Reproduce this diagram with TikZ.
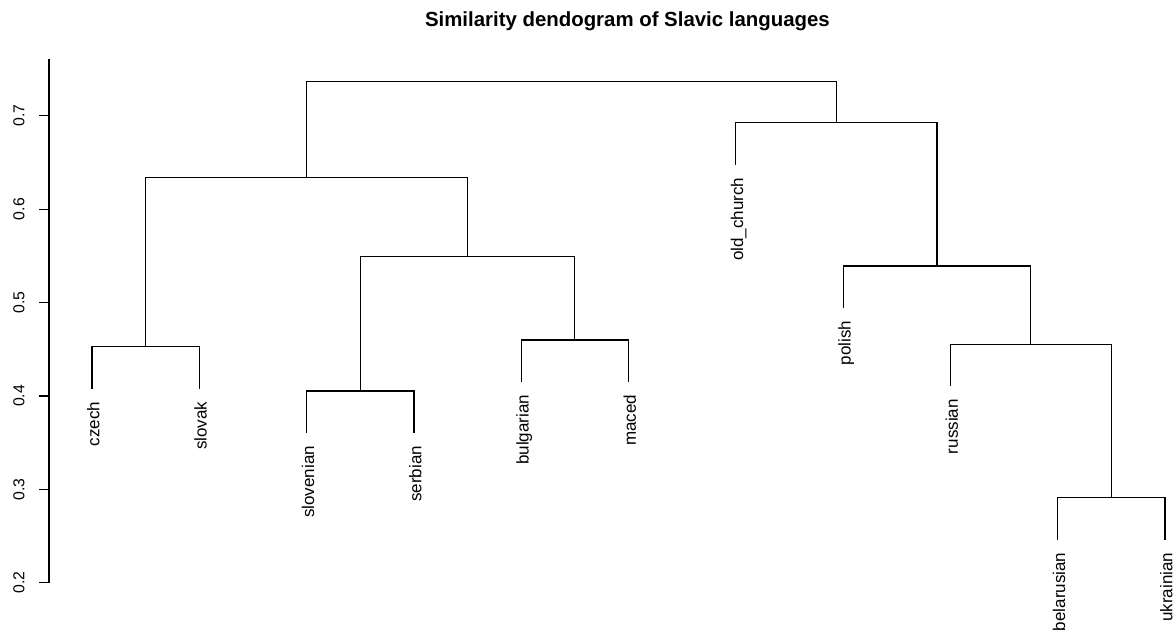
\documentclass[tikz,border=0pt]{standalone}
\usepackage{fontspec}
\setmainfont{Liberation Sans}
\begin{document}
\begin{tikzpicture}[
        x=53.65pt, y=467pt,
        every path/.append style={black, line width=0.6pt},
        every node/.append style={black, inner sep=0pt},
        leaflabel/.style={rotate=90, anchor=east, text height=1.4ex, text depth=0pt,
            font=\fontsize{8.5}{10}\selectfont},
        ticklabel/.style={rotate=90, anchor=south, font=\fontsize{7.9}{10}\selectfont}
    ]
    \useasboundingbox (0.1426,0.1472) rectangle (11.0746,0.8239);

    \node[anchor=base, font=\fontsize{10.2}{12}\selectfont\bfseries] (title) at (5.99,0.7953)
        {Similarity dendogram of Slavic languages};

    % axis
    \draw (0.6,0.2) -- (0.6,0.7604);
    \foreach \v/\n in {0.2/a,0.3/b,0.4/c,0.5/d,0.6/e,0.7/f}
        \draw (0.6,\v) -- ++(-5pt,0) ++(-7pt,0) node[ticklabel] (tick-\n) {\v};

    % leaves
    \coordinate (lf-czech) at (1,0.4078);
    \coordinate (lf-slovak) at (2,0.4078);
    \coordinate (lf-slovenian) at (3,0.3603);
    \coordinate (lf-serbian) at (4,0.3603);
    \coordinate (lf-bulgarian) at (5,0.4150);
    \coordinate (lf-maced) at (6,0.4150);
    \coordinate (lf-oldchurch) at (7,0.6476);
    \coordinate (lf-polish) at (8,0.4942);
    \coordinate (lf-russian) at (9,0.4103);
    \coordinate (lf-belarusian) at (10,0.2461);
    \coordinate (lf-ukrainian) at (11,0.2461);

    % merges
    \coordinate (m-czsk) at (1.5,0.4527);
    \coordinate (m-slsr) at (3.5,0.4052);
    \coordinate (m-bgmk) at (5.5,0.4599);
    \coordinate (m-south) at (4.5,0.5493);
    \coordinate (m-west) at (3,0.6336);
    \coordinate (m-beuk) at (10.5,0.2910);
    \coordinate (m-ru) at (9.75,0.4552);
    \coordinate (m-pl) at (8.875,0.5391);
    \coordinate (m-oc) at (7.9375,0.6925);
    \coordinate (m-root) at (5.46875,0.7364);

    \draw (lf-czech) |- (m-czsk) -| (lf-slovak);
    \draw (lf-slovenian) |- (m-slsr) -| (lf-serbian);
    \draw (lf-bulgarian) |- (m-bgmk) -| (lf-maced);
    \draw (m-slsr) |- (m-south) -| (m-bgmk);
    \draw (m-czsk) |- (m-west) -| (m-south);
    \draw (lf-belarusian) |- (m-beuk) -| (lf-ukrainian);
    \draw (lf-russian) |- (m-ru) -| (m-beuk);
    \draw (lf-polish) |- (m-pl) -| (m-ru);
    \draw (lf-oldchurch) |- (m-oc) -| (m-pl);
    \draw (m-west) |- (m-root) -| (m-oc);

    % labels
    \path (lf-czech) ++(0,-6.2pt) node[leaflabel] (t-czech) {czech};
    \path (lf-slovak) ++(0,-6.2pt) node[leaflabel] (t-slovak) {slovak};
    \path (lf-slovenian) ++(0,-6.2pt) node[leaflabel] (t-slovenian) {slovenian};
    \path (lf-serbian) ++(0,-6.2pt) node[leaflabel] (t-serbian) {serbian};
    \path (lf-bulgarian) ++(0,-6.2pt) node[leaflabel] (t-bulgarian) {bulgarian};
    \path (lf-maced) ++(0,-6.2pt) node[leaflabel] (t-maced) {maced};
    \path (lf-oldchurch) ++(0,-6.2pt) node[leaflabel] (t-oldchurch) {old\_church};
    \path (lf-polish) ++(0,-6.2pt) node[leaflabel] (t-polish) {polish};
    \path (lf-russian) ++(0,-6.2pt) node[leaflabel] (t-russian) {russian};
    \path (lf-belarusian) ++(0,-6.2pt) node[leaflabel] (t-belarusian) {belarusian};
    \path (lf-ukrainian) ++(0,-6.2pt) node[leaflabel] (t-ukrainian) {ukrainian};
\end{tikzpicture}
\end{document}
